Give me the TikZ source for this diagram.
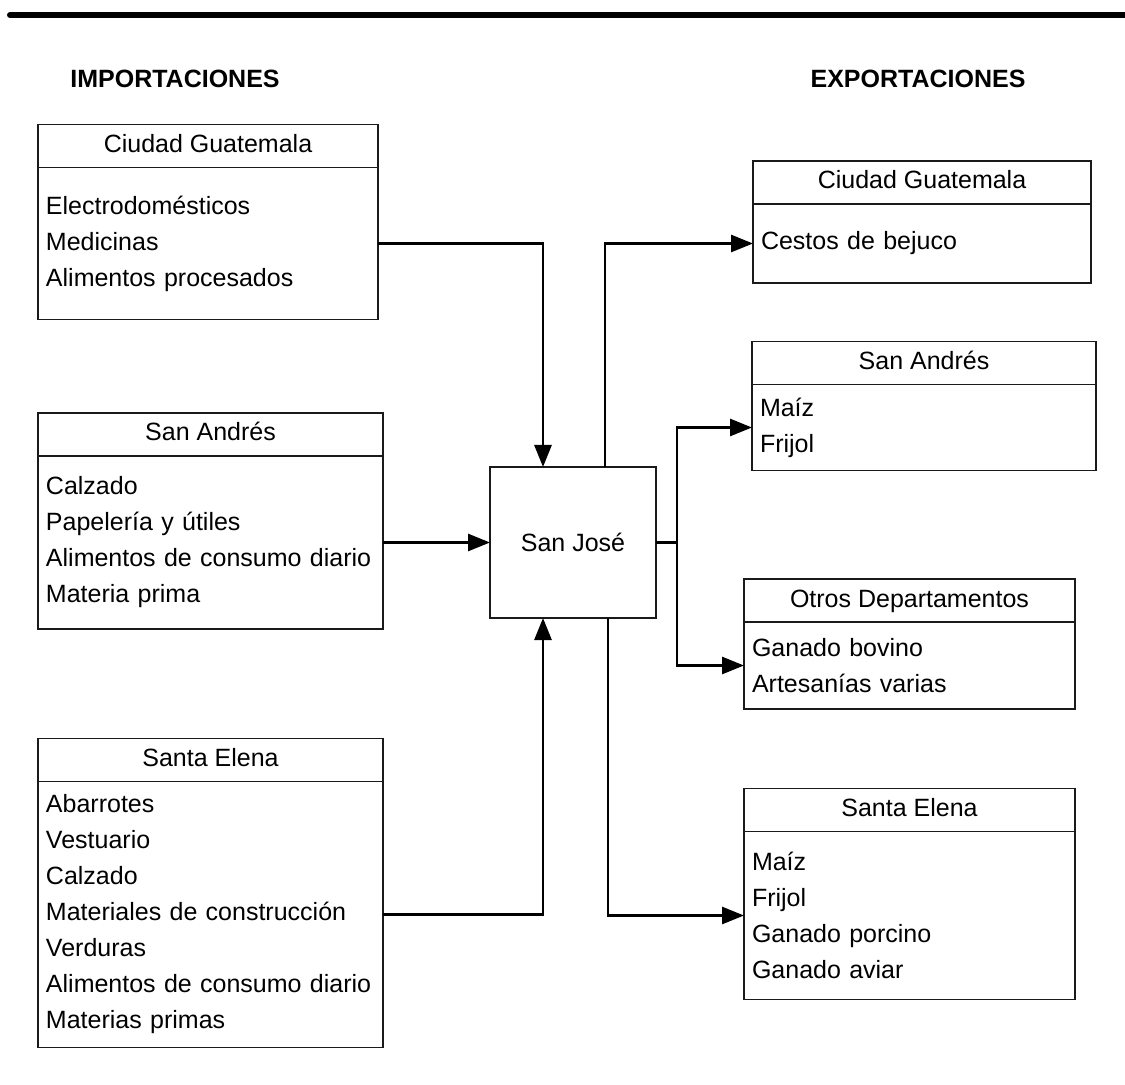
\documentclass[tikz,border=0pt]{standalone}
\usepackage{fontspec}
\setmainfont{Liberation Sans}
\usepackage{xcolor}
\definecolor{FrameInk}{HTML}{1A1A1A}
\usetikzlibrary{arrows.meta,positioning}

\begin{document}
\begin{tikzpicture}[x=0.5pt,y=-0.5pt,>={Triangle[length=11pt,width=8.5pt]},
head/.style={draw=FrameInk,line width=0.65pt,outer sep=0pt,inner ysep=2pt,minimum height=21.5pt,text height=9.5pt,text depth=3pt,font=\fontsize{12.5}{18}\selectfont},
body/.style={draw=FrameInk,line width=0.65pt,outer sep=0pt,inner xsep=4pt,text width=#1,align=left,font=\fontsize{12.5}{18}\selectfont},
hub/.style={draw=FrameInk,line width=0.65pt,outer sep=0pt,minimum width=83pt,minimum height=75.5pt,font=\fontsize{12.5}{18}\selectfont},
title/.style={font=\fontsize{12.5}{15}\selectfont\bfseries},
flow/.style={->,line width=1.4pt}]
\useasboundingbox (0,0) rectangle (1125,1085);
\draw[line width=3pt,line cap=round] (10,15) -- (1135,15);

\node[title] (imp) at (175,79) {IMPORTACIONES};
\node[title] (exp) at (918,79) {EXPORTACIONES};

% importaciones
\node[head,minimum width=170pt] (impCG) at (208,146) {Ciudad Guatemala};
\node[body=162pt,minimum height=76pt,below=0pt of impCG] (impCGb) {Electrodomésticos\\Medicinas\\Alimentos procesados};
\node[head,minimum width=172.5pt] (impSA) at (210.5,434.5) {San Andrés};
\node[body=164.5pt,minimum height=86.5pt,below=0pt of impSA] (impSAb) {Calzado\\Papelería y útiles\\Alimentos de consumo diario\\Materia prima};
\node[head,minimum width=172.5pt] (impSE) at (210.5,760) {Santa Elena};
\node[body=164.5pt,minimum height=133pt,below=0pt of impSE] (impSEb) {Abarrotes\\Vestuario\\Calzado\\Materiales de construcción\\Verduras\\Alimentos de consumo diario\\Materias primas};

\node[hub] (sj) at (573,542.5) {San José};

% exportaciones
\node[head,minimum width=169pt] (expCG) at (922,182.5) {Ciudad Guatemala};
\node[body=161pt,minimum height=39.5pt,below=0pt of expCG] (expCGb) {Cestos de bejuco};
\node[head,minimum width=172pt] (expSA) at (924,363) {San Andrés};
\node[body=164pt,minimum height=43pt,below=0pt of expSA] (expSAb) {Maíz\\Frijol};
\node[head,minimum width=165.5pt] (expOD) at (909.5,600.5) {Otros Departamentos};
\node[body=157.5pt,minimum height=43.5pt,below=0pt of expOD] (expODb) {Ganado bovino\\Artesanías varias};
\node[head,minimum width=165.5pt] (expSE) at (909.5,810) {Santa Elena};
\node[body=157.5pt,minimum height=84pt,below=0pt of expSE] (expSEb) {Maíz\\Frijol\\Ganado porcino\\Ganado aviar};

\coordinate (split) at ([xshift=10.5pt]sj.east);

\draw[flow] (impCGb.east) -| ([xshift=-15pt]sj.north);
\draw[flow] (impSAb.east) -- (impSAb.east -| sj.west);
\draw[flow] (impSEb.east) -| ([xshift=-15pt]sj.south);
\draw[flow] ([xshift=16pt]sj.north) |- (expCGb.west);
\draw[line width=1.4pt] (sj.east) -- (split);
\draw[flow] (split) |- (expSAb.west);
\draw[flow] (split) |- (expODb.west);
\draw[flow] ([xshift=17.5pt]sj.south) |- (expSEb.west);
\end{tikzpicture}
\end{document}
